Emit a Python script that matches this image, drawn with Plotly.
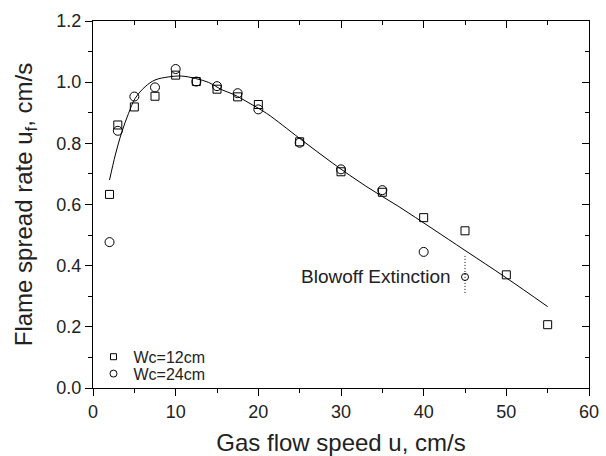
import plotly.graph_objects as go

# ---- data ----
u_12 = [2, 3, 5, 7.5, 10, 12.5, 15, 17.5, 20, 25, 30, 35, 40, 45, 50, 55]
uf_12 = [0.633, 0.860, 0.919, 0.954, 1.023, 1.002, 0.977, 0.952, 0.927, 0.805, 0.707, 0.640, 0.557, 0.514, 0.370, 0.207]

u_24 = [2, 3, 5, 7.5, 10, 12.5, 15, 17.5, 20, 25, 30, 35, 40]
uf_24 = [0.477, 0.841, 0.953, 0.983, 1.043, 1.002, 0.987, 0.964, 0.911, 0.802, 0.715, 0.647, 0.445]

u_blowoff = [45]
uf_blowoff = [0.363]

fit_u = [2, 2.7, 3.5, 4.3, 5.1, 6.3, 7.5, 9.1, 10.7, 12.4, 14, 15.6, 17, 19, 21, 25, 29, 33, 37, 41, 45, 50, 55]
fit_uf = [0.680, 0.762, 0.838, 0.898, 0.947, 0.985, 1.007, 1.017, 1.020, 1.012, 0.999, 0.975, 0.960, 0.930, 0.898, 0.816, 0.735, 0.660, 0.593, 0.522, 0.450, 0.360, 0.266]

marker_line_u = [45, 45]
marker_line_uf = [0.432, 0.310]

legend_names = ["Wc=12cm", "Wc=24cm"]
annotation_text = "Blowoff Extinction"
x_title = "Gas flow speed u, cm/s"
y_title = "Flame spread rate u<sub>f</sub>, cm/s"

FONT = "Liberation Sans, Arial, sans-serif"
TXT = "#222222"

fig = go.Figure()

# fit curve
fig.add_trace(go.Scatter(x=fit_u, y=fit_uf, mode="lines", line=dict(color="black", width=1, shape="spline"),
                         showlegend=False, hoverinfo="skip"))
# dotted blowoff marker line
fig.add_trace(go.Scatter(x=marker_line_u, y=marker_line_uf, mode="lines",
                         line=dict(color="black", width=1, dash="1px,2px"), showlegend=False))
# data
fig.add_trace(go.Scatter(x=u_12, y=uf_12, mode="markers", showlegend=False,
                         marker=dict(symbol="square-open", size=8, color="black", line=dict(width=1))))
fig.add_trace(go.Scatter(x=u_24, y=uf_24, mode="markers", showlegend=False,
                         marker=dict(symbol="circle-open", size=9, color="black", line=dict(width=1))))
fig.add_trace(go.Scatter(x=u_blowoff, y=uf_blowoff, mode="markers", showlegend=False,
                         marker=dict(symbol="circle-open", size=7, color="black", line=dict(width=1))))
# legend proxies (two separate legends so the rows can sit close together)
fig.add_trace(go.Scatter(x=[None], y=[None], mode="markers", name=legend_names[0], legend="legend",
                         marker=dict(symbol="square-open", size=6, color="black", line=dict(width=1))))
fig.add_trace(go.Scatter(x=[None], y=[None], mode="markers", name=legend_names[1], legend="legend2",
                         marker=dict(symbol="circle-open", size=7, color="black", line=dict(width=1))))
# mirror axes carrier
fig.add_trace(go.Scatter(x=[None], y=[None], xaxis="x2", yaxis="y2", showlegend=False))

axis_common = dict(showline=True, linecolor="black", linewidth=1.3, showgrid=False, zeroline=False,
                   tickcolor="black", tickwidth=1.2, ticklen=7, automargin=False,
                   tickfont=dict(family=FONT, size=18, color=TXT))

legend_common = dict(xanchor="left", yanchor="middle", bgcolor="rgba(0,0,0,0)",
                     font=dict(family=FONT, size=16, color=TXT), itemwidth=30)

fig.update_layout(
    width=606, height=456,
    margin=dict(l=93, r=17, t=21, b=68),
    paper_bgcolor="white", plot_bgcolor="white",
    font=dict(family=FONT, color=TXT),
    xaxis=dict(range=[0, 60], dtick=10, ticks="outside",
               minor=dict(dtick=5, ticks="outside", ticklen=4, tickcolor="black", tickwidth=1.2),
               title=dict(text=x_title, font=dict(family=FONT, size=24, color=TXT), standoff=17),
               **axis_common),
    yaxis=dict(range=[0, 1.2], dtick=0.2, tickformat=".1f", ticks="outside",
               minor=dict(dtick=0.1, ticks="outside", ticklen=4, tickcolor="black", tickwidth=1.2),
               title=dict(text=y_title, font=dict(family=FONT, size=24, color=TXT), standoff=16),
               **axis_common),
    xaxis2=dict(range=[0, 60], dtick=10, ticks="inside", side="top", overlaying="x", anchor="y2",
                showticklabels=False,
                minor=dict(dtick=5, ticks="inside", ticklen=4, tickcolor="black", tickwidth=1.2),
                **axis_common),
    yaxis2=dict(range=[0, 1.2], dtick=0.2, ticks="inside", side="right", overlaying="y", anchor="x2",
                showticklabels=False,
                minor=dict(dtick=0.1, ticks="inside", ticklen=4, tickcolor="black", tickwidth=1.2),
                **axis_common),
    legend=dict(x=0.001, y=0.085, **legend_common),
    legend2=dict(x=0.001, y=0.039, **legend_common),
    annotations=[dict(x=43.55, y=0.363, xref="x", yref="y", text=annotation_text, showarrow=False,
                      xanchor="right", yanchor="middle", font=dict(family=FONT, size=19, color=TXT))],
)

fig.write_html("out.html")
